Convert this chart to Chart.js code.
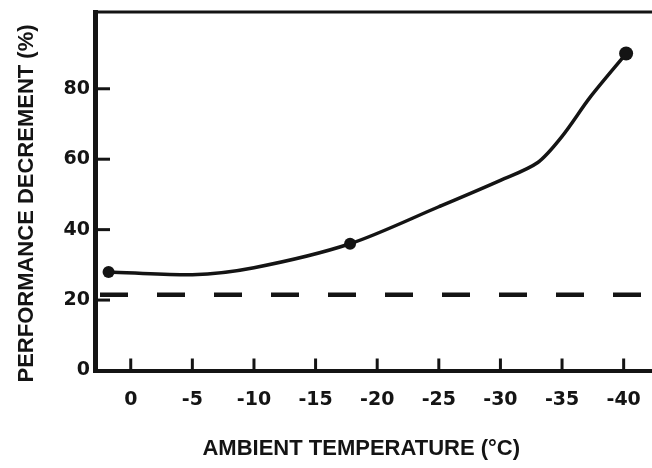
<!DOCTYPE html>
<html>
<head>
<meta charset="utf-8">
<script src="https://cdn.jsdelivr.net/npm/chart.js@4"></script>
<style>
  html, body { margin: 0; padding: 0; background: #fff; overflow: hidden; }
  #wrap { width: 652px; height: 468px; position: relative; }
</style>
</head>
<body>
<div id="wrap"><canvas id="perfChart"></canvas></div>
<script>
// values
const temperatures = [1.8, -5, -10, -17.8, -25, -30, -33, -35, -37.3, -40.2];
const decrement = [28.0, 27.2, 29.2, 36.0, 46.5, 54.0, 59.0, 66.5, 77.7, 90.0];
const markerSizes = [6, 0, 0, 6, 0, 0, 0, 0, 0, 7];
const thresholdValue = 21.5;
const xTicks = [0, -5, -10, -15, -20, -25, -30, -35, -40];
const yTicks = [0, 20, 40, 60, 80];

const xRange = { min: -42.3, max: 2.9 };
const yRange = { min: 0, max: 101.8 };

document.addEventListener('DOMContentLoaded', () => {
    const ctx = document.getElementById('perfChart').getContext('2d');
    const ink = '#141414';

    const curveData = temperatures.map((t, i) => ({ x: t, y: decrement[i] }));
    const thresholdData = [
        { x: xRange.max, y: thresholdValue },
        { x: xRange.min, y: thresholdValue }
    ];

    // inward tick marks and the top frame line
    const frameTicks = {
        id: 'frameTicks',
        beforeDatasetsDraw(chart) {
            const { ctx, chartArea, scales } = chart;
            ctx.save();
            ctx.strokeStyle = ink;
            ctx.lineCap = 'butt';

            ctx.lineWidth = 3;
            ctx.beginPath();
            ctx.moveTo(chartArea.left, chartArea.top);
            ctx.lineTo(chartArea.right, chartArea.top);
            ctx.stroke();

            scales.x.ticks.forEach(t => {
                const px = scales.x.getPixelForValue(t.value);
                ctx.beginPath();
                ctx.moveTo(px, chartArea.bottom);
                ctx.lineTo(px, chartArea.bottom - 12);
                ctx.stroke();
            });
            scales.y.ticks.forEach(t => {
                if (t.value === 0) return;
                const py = scales.y.getPixelForValue(t.value);
                ctx.beginPath();
                ctx.moveTo(chartArea.left, py);
                ctx.lineTo(chartArea.left + 15, py);
                ctx.stroke();
            });
            ctx.restore();
        }
    };

    new Chart(ctx, {
        type: 'line',
        data: {
            datasets: [{
                label: 'Performance decrement',
                data: curveData,
                borderColor: ink,
                backgroundColor: ink,
                borderWidth: 3.5,
                pointRadius: markerSizes,
                pointHoverRadius: markerSizes,
                pointBorderWidth: 0,
                tension: 0.3,
                fill: false
            }, {
                label: 'Threshold',
                data: thresholdData,
                borderColor: ink,
                borderWidth: 4.5,
                borderDash: [28, 29],
                borderDashOffset: 52,
                pointRadius: 0,
                fill: false
            }]
        },
        options: {
            animation: false,
            responsive: true,
            maintainAspectRatio: false,
            layout: {
                autoPadding: false,
                padding: { top: 12, right: 0, left: 0, bottom: 0 }
            },
            plugins: {
                legend: { display: false },
                tooltip: { enabled: false }
            },
            scales: {
                x: {
                    type: 'linear',
                    reverse: true,
                    min: xRange.min,
                    max: xRange.max,
                    afterBuildTicks: scale => {
                        scale.ticks = xTicks.map(v => ({ value: v }));
                    },
                    afterFit: scale => {
                        scale.height = 97.5;
                        scale.paddingLeft = 0;
                        scale.paddingRight = 0;
                    },
                    // tick marks are drawn by the plugin; tickLength only spaces the labels
                    grid: { display: false, drawTicks: true, tickLength: 18 },
                    border: { display: true, color: ink, width: 4 },
                    ticks: {
                        padding: 0,
                        color: ink,
                        font: { family: 'DejaVu Sans', size: 19, weight: 'bold' },
                        callback: v => String(v)
                    },
                    title: {
                        display: true,
                        text: 'AMBIENT TEMPERATURE (°C)    ',
                        color: ink,
                        font: { family: 'Liberation Sans', size: 22, weight: 'bold' },
                        padding: { top: 0, bottom: 6 }
                    }
                },
                y: {
                    type: 'linear',
                    min: yRange.min,
                    max: yRange.max,
                    afterBuildTicks: scale => {
                        scale.ticks = yTicks.map(v => ({ value: v }));
                    },
                    afterFit: scale => {
                        scale.width = 95;
                        scale.paddingTop = 0;
                        scale.paddingBottom = 0;
                    },
                    grid: { display: false, drawTicks: false },
                    border: { display: true, color: ink, width: 5 },
                    ticks: {
                        padding: 5,
                        color: ink,
                        font: { family: 'DejaVu Sans', size: 19, weight: 'bold' }
                    },
                    title: {
                        display: true,
                        text: 'PERFORMANCE DECREMENT (%)    ',
                        color: ink,
                        font: { family: 'Liberation Sans', size: 22, weight: 'bold' },
                        padding: { top: 14, bottom: 0 }
                    }
                }
            }
        },
        plugins: [frameTicks]
    });
});
</script>
</body>
</html>
